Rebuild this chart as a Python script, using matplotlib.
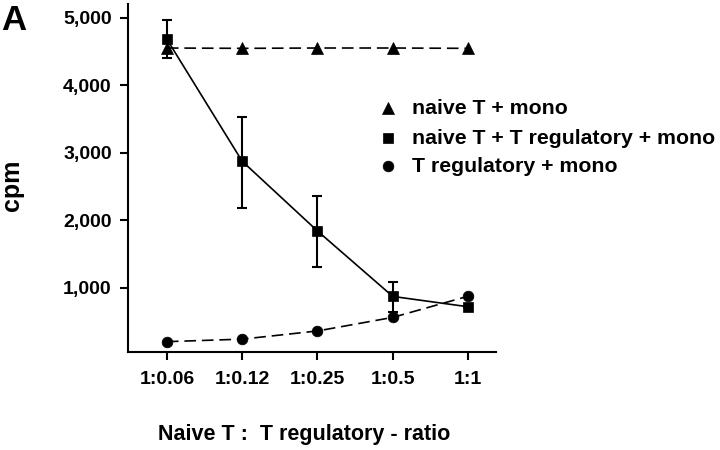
import matplotlib
matplotlib.use("Agg")
import matplotlib.pyplot as plt
from matplotlib.lines import Line2D

ratios = ["1:0.06", "1:0.12", "1:0.25", "1:0.5", "1:1"]
naive_mono = [4550, 4545, 4550, 4550, 4545]
naive_treg_mono = [4680, 2875, 1843, 875, 722]
treg_err_low = [280, 695, 528, 230, 0]
treg_err_high = [285, 660, 522, 218, 0]
treg_mono = [206, 243, 364, 565, 878]
y_ticks = [1000, 2000, 3000, 4000, 5000]
y_ticklabels = ["1,000", "2,000", "3,000", "4,000", "5,000"]
labels = ["naive T + mono", "naive T + T regulatory + mono", "T regulatory + mono"]

plt.rcParams['font.family'] = ['Liberation Sans', 'DejaVu Sans']
plt.rcParams['font.weight'] = 'bold'

fig = plt.figure(figsize=(7.2, 4.5), dpi=100)
ax = fig.add_axes([0.1774, 0.2178, 0.5114, 0.7733])

x = list(range(len(ratios)))
dash = (0, (7, 3.5))

ax.plot(x, naive_mono, linestyle=dash, color='black', lw=1.2,
        marker='^', markersize=9, markeredgewidth=0.5, zorder=3)
ax.errorbar(x, naive_treg_mono, yerr=[treg_err_low, treg_err_high],
            fmt='none', ecolor='black', elinewidth=1.5, capsize=3.6, capthick=1.5, zorder=2)
ax.plot(x, naive_treg_mono, linestyle='-', color='black', lw=1.2,
        marker='s', markersize=6.5, markeredgewidth=0.5, zorder=4)
ax.plot(x, treg_mono, linestyle=dash, color='black', lw=1.2,
        marker='o', markersize=7.7, markeredgewidth=0.5, zorder=3)

ax.set_xlim(-0.52, 4.37)
ax.set_ylim(53, 5201)
ax.set_xticks(x)
ax.set_xticklabels(ratios, fontsize=14, fontweight='bold')
ax.set_yticks(y_ticks)
ax.set_yticklabels(y_ticklabels, fontsize=14, fontweight='bold')
for s in ['top', 'right']:
    ax.spines[s].set_visible(False)
for s in ['left', 'bottom']:
    ax.spines[s].set_linewidth(1.5)
ax.tick_params(axis='y', length=6, width=1.5, pad=5.5)
ax.tick_params(axis='x', length=6, width=1.5, pad=8)

# legend (manual placement)
W, H = 720, 450
leg_markers = ['^', 's', 'o']
leg_sizes = [9, 6.5, 7.7]
marker_y = [108, 138, 166]
base_y = [114, 143.5, 172.5]
for m, ms, my, by, lab in zip(leg_markers, leg_sizes, marker_y, base_y, labels):
    fig.add_artist(Line2D([388 / W], [1 - my / H], marker=m, markersize=ms,
                          color='black', markeredgewidth=0.5, linestyle='none',
                          transform=fig.transFigure))
    fig.text(412 / W, 1 - by / H, lab, fontsize=15.3, fontweight='bold',
             ha='left', va='baseline')

fig.text(304 / W, 1 - 440 / H, "Naive T :  T regulatory - ratio", fontsize=15.5,
         fontweight='bold', ha='center', va='baseline')
fig.text(12 / W, 1 - 185 / H, "cpm", fontsize=18, fontweight='bold',
         rotation=90, ha='center', va='center')
fig.text(1 / W, 1 - 30 / H, "A", fontsize=25, fontweight='bold',
         ha='left', va='baseline')

fig.savefig("out.png", dpi=100)
